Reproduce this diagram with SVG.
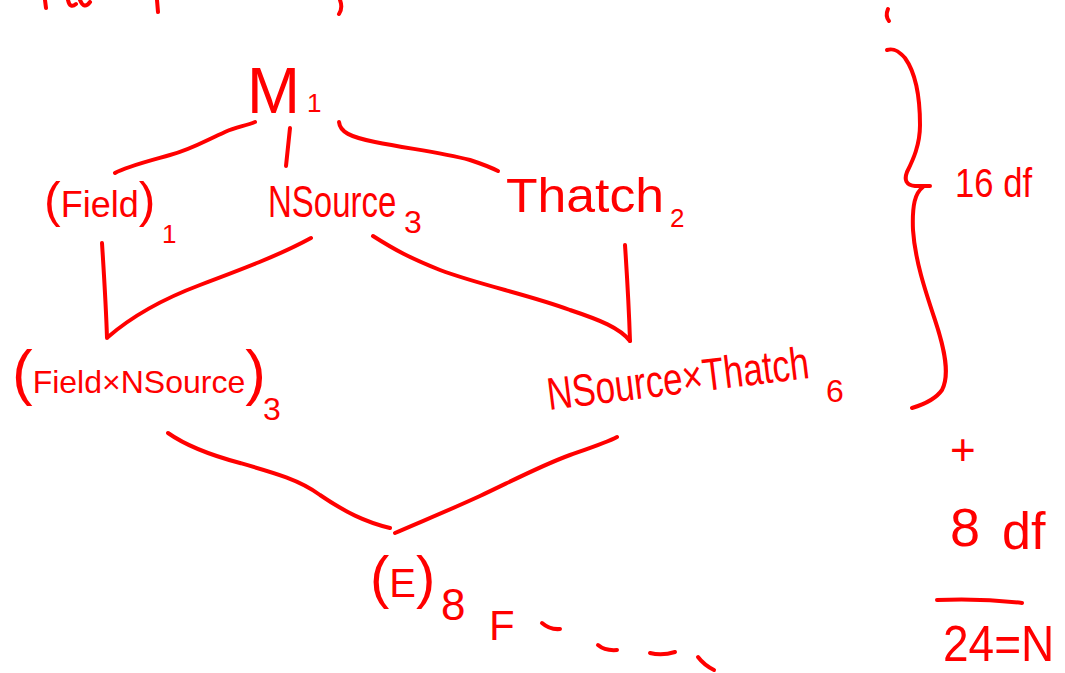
<svg xmlns="http://www.w3.org/2000/svg" width="1065" height="673" viewBox="0 0 1065 673">
<style>
text{font-family:"Liberation Sans",Arial,sans-serif;fill:#f00;}
.s{fill:none;stroke:#f00;stroke-width:4;stroke-linecap:round;stroke-linejoin:round;}
</style>
<rect width="1065" height="673" fill="#fff"/>
<g id="fragments">
<path class="s" d="M45,0 L46,8"/>
<path class="s" d="M68,0 Q70,9 76,4 M80,0 Q84,10 90,2"/>
<path class="s" d="M157,0 L158,12"/>
<path class="s" d="M340,0 Q343,8 339,14"/>
<path class="s" d="M888,9 Q885,16 889,21"/>
</g>
<g id="connectors">
<path class="s" d="M255,122 C245,126 236,127 225,132 C205,141 190,150 170,155 C145,162 125,167 115,173"/>
<path class="s" d="M290,128 L286,166"/>
<path class="s" d="M339,122 C340,132 350,137 375,142 C410,149 440,152 470,160 C482,164 492,168 498,171"/>
<path class="s" d="M102,243 C104,275 106,305 107,338"/>
<path class="s" d="M108,337 C130,318 160,300 200,285 C240,270 280,255 311,238"/>
<path class="s" d="M373,236 C395,250 410,258 440,270 C480,285 530,295 570,310 C600,320 620,328 630,341"/>
<path class="s" d="M625,245 C627,275 629,310 630,341"/>
<path class="s" d="M168,433 C185,445 210,455 240,463 C275,473 300,480 320,495 C345,512 365,522 390,528"/>
<path class="s" d="M395,533 C420,522 445,512 480,496 C510,482 540,466 570,455 C590,448 608,442 617,437"/>
<path class="s" d="M887,50 C893,48 898,50 905,58 C915,72 920,95 920,125 C920,145 913,160 907,172 C904,180 906,185 915,186 L930,186"/>
<path class="s" d="M923,187 C915,193 912,205 913,230 C915,260 925,290 935,320 C945,350 950,375 942,390 C935,400 922,405 912,408"/>
<path class="s" d="M542,623 Q550,630 560,629"/>
<path class="s" d="M598,645 Q605,651 617,650"/>
<path class="s" d="M650,653 Q662,656 675,652"/>
<path class="s" d="M698,657 Q704,665 714,670"/>
<path class="s" d="M937,600 Q980,598 1022,603"/>
</g>
<g id="node-M">
<text x="247" y="113" font-size="64" textLength="53" lengthAdjust="spacingAndGlyphs">M</text>
<text x="307" y="112" font-size="26">1</text>
</g>
<g id="node-field">
<text x="44" y="217"><tspan font-size="50">(</tspan><tspan font-size="36">Field</tspan><tspan font-size="50">)</tspan></text>
<text x="162" y="243" font-size="26">1</text>
</g>
<g id="node-nsource">
<text transform="translate(268,217) scale(1,1.33)" x="0" y="0" font-size="33">NSource</text>
<text x="404" y="233" font-size="32">3</text>
</g>
<g id="node-thatch">
<text x="506" y="212" font-size="48" textLength="158" lengthAdjust="spacingAndGlyphs">Thatch</text>
<text x="670" y="227" font-size="26">2</text>
</g>
<g id="node-field-nsource">
<text x="12" y="393"><tspan font-size="62">(</tspan><tspan font-size="32">Field×NSource</tspan><tspan font-size="62">)</tspan></text>
<text x="263" y="420" font-size="32">3</text>
</g>
<g id="node-nsource-thatch">
<text transform="rotate(-7 549 410) translate(549,410) scale(1,1.3)" x="0" y="0" font-size="35">NSource×Thatch</text>
<text x="826" y="402" font-size="32">6</text>
</g>
<g id="node-E">
<text x="370" y="597"><tspan font-size="58">(</tspan><tspan font-size="40">E</tspan><tspan font-size="58">)</tspan></text>
<text x="441" y="620" font-size="44">8</text>
<text x="489" y="640" font-size="42">F</text>
</g>
<g id="df-summary">
<text x="955" y="197" font-size="40" textLength="77" lengthAdjust="spacingAndGlyphs">16 df</text>
<text x="950" y="465" font-size="44">+</text>
<text x="950" y="546" font-size="54">8</text>
<text x="1002" y="549" font-size="52">df</text>
<text transform="translate(943,661) scale(1,1.1)" x="0" y="0" font-size="46">24=N</text>
</g>
</svg>
